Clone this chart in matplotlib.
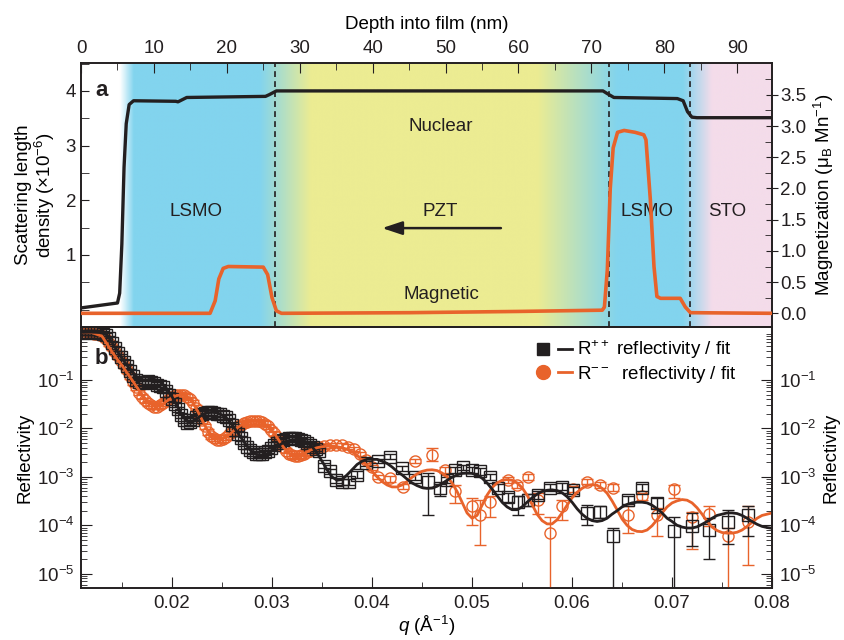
import numpy as np
import matplotlib.pyplot as plt
from matplotlib.legend_handler import HandlerTuple
from matplotlib.lines import Line2D
from matplotlib.ticker import MultipleLocator, FixedLocator, NullFormatter, LogLocator, FormatStrFormatter

plt.rcParams['font.family'] = ['Liberation Sans', 'DejaVu Sans']
plt.rcParams['mathtext.fontset'] = 'custom'
plt.rcParams['mathtext.rm'] = 'Liberation Sans'
plt.rcParams['mathtext.it'] = 'Liberation Sans:italic'
plt.rcParams['mathtext.bf'] = 'Liberation Sans:bold'
plt.rcParams['font.size'] = 13.5

INK = '#231F20'
ORANGE = '#E8632B'
BLUE = '#82D4EE'
YELLOW = '#ECEC92'
PINK = '#F4DCEA'

# ---- panel a: depth profiles ----
depth_nuc = [0, 5.0, 5.3, 5.6, 5.9, 6.2, 6.6, 7.2, 13.0, 13.3, 14.5, 25.3, 25.8, 26.8,
             71.6, 72.2, 73.1, 81.8, 82.6, 83.2, 83.8, 84.5, 94.8]
sld_nuc = [0.03, 0.12, 0.3, 1.2, 2.6, 3.4, 3.75, 3.82, 3.81, 3.80, 3.88, 3.90, 3.93, 4.0,
           4.0, 3.95, 3.88, 3.86, 3.82, 3.62, 3.52, 3.51, 3.51]

depth_mag = [0, 17.7, 18.4, 18.9, 19.5, 20.2, 25.0, 25.6, 26.2, 26.8, 27.5, 45.0, 60.0,
             71.5, 71.8, 72.2, 72.6, 73.0, 73.6, 74.5, 76.0, 77.2, 77.5, 78.1, 78.6,
             79.0, 79.5, 82.2, 82.9, 83.6, 94.8]
mag = [0.0, 0.0, 0.2, 0.55, 0.72, 0.75, 0.74, 0.62, 0.25, 0.04, 0.0, 0.01, 0.03,
       0.05, 0.1, 0.7, 2.0, 2.65, 2.9, 2.93, 2.9, 2.86, 2.78, 1.82, 0.75,
       0.27, 0.24, 0.24, 0.1, 0.01, 0.0]

interfaces = [26.6, 72.4, 83.5]
layer_depth = [0, 5.3, 7.2, 24.5, 31.5, 62.5, 73.5, 82.5, 86.5, 94.8]
layer_color = ['#FFFFFF', '#FFFFFF', BLUE, BLUE, YELLOW, YELLOW, BLUE, BLUE, PINK, PINK]

# ---- panel b: reflectivity ----
q_dense = [0.0110, 0.0113, 0.0116, 0.0119, 0.0122, 0.0125, 0.0128, 0.0131, 0.0134, 0.0137,
           0.0140, 0.0143, 0.0146, 0.0149, 0.0152, 0.0155, 0.0158, 0.0161, 0.0164, 0.0167,
           0.0170, 0.0173, 0.0176, 0.0179, 0.0182, 0.0185, 0.0188, 0.0191, 0.0194, 0.0197,
           0.0200, 0.0203, 0.0206, 0.0209, 0.0212, 0.0215, 0.0218, 0.0221, 0.0224, 0.0227,
           0.0230, 0.0233, 0.0236, 0.0239, 0.0242, 0.0245, 0.0248, 0.0251, 0.0254, 0.0257,
           0.0260, 0.0263, 0.0266, 0.0269, 0.0272, 0.0275, 0.0278, 0.0281, 0.0284, 0.0287,
           0.0290, 0.0293, 0.0296, 0.0299, 0.0302, 0.0305, 0.0308, 0.0311, 0.0314, 0.0317,
           0.0320, 0.0323, 0.0326, 0.0329, 0.0332, 0.0335, 0.0338, 0.0341, 0.0344, 0.0347]
rpp_dense = [0.95, 0.97, 0.96, 0.98, 0.95, 0.96, 0.93, 0.90, 0.85, 0.72,
             0.58, 0.45, 0.36, 0.30, 0.24, 0.19, 0.15, 0.12, 0.10, 0.09,
             0.085, 0.09, 0.095, 0.09, 0.085, 0.08, 0.075, 0.07, 0.06, 0.05,
             0.04, 0.032, 0.025, 0.019, 0.015, 0.013, 0.0135, 0.015, 0.017, 0.019,
             0.020, 0.021, 0.022, 0.022, 0.021, 0.020, 0.020, 0.018, 0.017, 0.015,
             0.012, 0.0095, 0.0078, 0.0062, 0.0050, 0.0042, 0.0036, 0.0033, 0.0030, 0.0029,
             0.0030, 0.0032, 0.0035, 0.0040, 0.0046, 0.0050, 0.0055, 0.0058, 0.0060, 0.0062,
             0.0064, 0.0062, 0.0060, 0.0057, 0.0054, 0.0050, 0.0046, 0.0042, 0.0038, 0.0035]
rmm_dense = [0.92, 0.95, 0.94, 0.92, 0.90, 0.88, 0.85, 0.80, 0.70, 0.58,
             0.47, 0.38, 0.31, 0.25, 0.20, 0.16, 0.12, 0.09, 0.07, 0.055,
             0.045, 0.038, 0.033, 0.030, 0.028, 0.028, 0.030, 0.033, 0.037, 0.041,
             0.045, 0.048, 0.050, 0.050, 0.048, 0.045, 0.040, 0.034, 0.027, 0.020,
             0.015, 0.011, 0.0085, 0.0070, 0.0062, 0.0058, 0.0058, 0.0060, 0.0065, 0.0075,
             0.0085, 0.0097, 0.011, 0.012, 0.013, 0.0135, 0.014, 0.0142, 0.0142, 0.014,
             0.0135, 0.0125, 0.011, 0.0095, 0.008, 0.0065, 0.0052, 0.0042, 0.0035, 0.0030,
             0.0028, 0.0027, 0.0027, 0.0028, 0.0030, 0.0032, 0.0035, 0.0037, 0.0039, 0.0041]
dense_rel_err = 0.12

q_pp = [0.0352, 0.0358, 0.0364, 0.0370, 0.0377, 0.0385, 0.0394, 0.0406, 0.0418, 0.0430,
        0.0443, 0.0456, 0.0468, 0.0475, 0.0483, 0.0491, 0.0500, 0.0508, 0.0518, 0.0526,
        0.0536, 0.0546, 0.0556, 0.0566, 0.0578, 0.0590, 0.0601, 0.0615, 0.0628, 0.0641,
        0.0656, 0.0670, 0.0685, 0.0702, 0.0720, 0.0737, 0.0756, 0.0776]
r_pp = [0.0017, 0.0013, 0.00085, 0.0008, 0.0008, 0.0011, 0.0019, 0.0021, 0.0026, 0.0015,
        0.0010, 0.0008, 0.00059, 0.00087, 0.0014, 0.0016, 0.0014, 0.0013, 0.0010, 0.00059,
        0.00038, 0.00031, 0.00034, 0.00043, 0.00059, 0.00063, 0.00054, 0.00018, 0.00019, 0.000059,
        0.00034, 0.00059, 0.00029, 0.000077, 0.000098, 0.000081, 0.000115, 0.00016]
lo_pp = [0.0015, 0.00115, 0.00075, 0.00068, 0.00068, 0.00095, 0.0017, 0.0019, 0.0023, 0.0013,
         0.00085, 0.00016, 0.0004, 0.00075, 0.0012, 0.0014, 0.0012, 0.0011, 0.00085, 0.0005,
         0.0003, 0.00016, 0.00025, 0.00035, 0.0005, 0.00053, 0.00045, 0.0001, 0.00014, 1e-6,
         0.00028, 0.0005, 0.00018, 1e-6, 0.000037, 0.00002, 0.000042, 0.000059]
hi_pp = [0.0019, 0.00145, 0.00095, 0.00092, 0.00092, 0.0013, 0.0021, 0.0023, 0.0029, 0.0017,
         0.00115, 0.0012, 0.00072, 0.001, 0.0016, 0.0018, 0.0016, 0.0015, 0.00115, 0.0007,
         0.00046, 0.0004, 0.00045, 0.00051, 0.0007, 0.00073, 0.00063, 0.00026, 0.00025, 0.00009,
         0.0004, 0.0007, 0.00036, 0.00015, 0.00018, 0.00014, 0.00021, 0.00025]

q_mm = [0.0352, 0.0358, 0.0364, 0.0370, 0.0376, 0.0382, 0.0388, 0.0394, 0.0400, 0.0406,
        0.0418, 0.0431, 0.0443, 0.0460, 0.0473, 0.0483, 0.0500, 0.0508, 0.0518, 0.0536,
        0.0545, 0.0556, 0.0566, 0.0578, 0.0590, 0.0601, 0.0615, 0.0628, 0.0641, 0.0656,
        0.0670, 0.0685, 0.0702, 0.0720, 0.0737, 0.0756, 0.0776]
r_mm = [0.0043, 0.0045, 0.0046, 0.0045, 0.0042, 0.0038, 0.0030, 0.0022, 0.0016, 0.0010,
        0.00093, 0.00063, 0.0021, 0.0028, 0.0014, 0.0005, 0.00025, 0.00016, 0.00031, 0.00087,
        0.00069, 0.0010, 0.00034, 0.000069, 0.00025, 0.00056, 0.0008, 0.00069, 0.00059, 0.000166,
        0.0004, 0.000166, 0.00056, 0.000148, 0.000174, 0.00006, 0.000115]
lo_mm = [0.0038, 0.004, 0.0041, 0.004, 0.0037, 0.0034, 0.0027, 0.0019, 0.0014, 0.0009,
         0.0008, 0.00055, 0.0019, 0.0021, 0.0012, 0.00029, 0.0001, 0.00004, 0.00015, 0.00075,
         0.0006, 0.00088, 0.00017, 1e-6, 0.00013, 0.00048, 0.0007, 0.0006, 0.0005, 0.00007,
         0.00034, 0.00006, 0.00036, 0.000032, 0.000097, 1e-6, 0.000015]
hi_mm = [0.0048, 0.005, 0.0051, 0.005, 0.0047, 0.0042, 0.0033, 0.0025, 0.0018, 0.0011,
         0.00105, 0.00072, 0.0023, 0.0039, 0.0016, 0.00069, 0.00036, 0.00034, 0.0004, 0.001,
         0.0008, 0.00115, 0.00046, 0.00015, 0.00034, 0.00065, 0.0009, 0.0008, 0.0007, 0.00025,
         0.00047, 0.00023, 0.00069, 0.00019, 0.00025, 0.00009, 0.00025]

q_fit = [0.0109, 0.0120, 0.0130, 0.0135, 0.0140, 0.0145, 0.0150, 0.0155, 0.0160, 0.0165,
         0.0170, 0.0175, 0.0180, 0.0185, 0.0190, 0.0195, 0.0200, 0.0205, 0.0210, 0.0215,
         0.0220, 0.0225, 0.0230, 0.0235, 0.0240, 0.0245, 0.0250, 0.0255, 0.0260, 0.0265,
         0.0270, 0.0275, 0.0280, 0.0285, 0.0290, 0.0295, 0.0300, 0.0305, 0.0310, 0.0315,
         0.0320, 0.0325, 0.0330, 0.0335, 0.0340, 0.0345, 0.0350, 0.0355, 0.0360, 0.0365,
         0.0370, 0.0375, 0.0380, 0.0385, 0.0390, 0.0395, 0.0400, 0.0405, 0.0410, 0.0415,
         0.0420, 0.0425, 0.0430, 0.0435, 0.0440, 0.0445, 0.0450, 0.0455, 0.0460, 0.0465,
         0.0470, 0.0475, 0.0480, 0.0485, 0.0490, 0.0495, 0.0500, 0.0505, 0.0510, 0.0515,
         0.0520, 0.0525, 0.0530, 0.0535, 0.0540, 0.0545, 0.0550, 0.0555, 0.0560, 0.0565,
         0.0570, 0.0575, 0.0580, 0.0585, 0.0590, 0.0595, 0.0600, 0.0605, 0.0610, 0.0615,
         0.0620, 0.0625, 0.0630, 0.0635, 0.0640, 0.0645, 0.0650, 0.0655, 0.0660, 0.0665,
         0.0670, 0.0675, 0.0680, 0.0685, 0.0690, 0.0695, 0.0700, 0.0705, 0.0710, 0.0715,
         0.0720, 0.0725, 0.0730, 0.0735, 0.0740, 0.0745, 0.0750, 0.0755, 0.0760, 0.0765,
         0.0770, 0.0775, 0.0780, 0.0785, 0.0790, 0.0795, 0.0800]
fit_pp = [0.96, 0.97, 0.95, 0.85, 0.6, 0.4, 0.28, 0.2, 0.15, 0.115,
          0.1, 0.1, 0.105, 0.1, 0.085, 0.065, 0.045, 0.03, 0.019, 0.014,
          0.0135, 0.016, 0.019, 0.021, 0.0215, 0.021, 0.019, 0.016, 0.012, 0.0085,
          0.006, 0.0043, 0.0033, 0.0029, 0.0028, 0.003, 0.0035, 0.0042, 0.0049, 0.0055,
          0.0058, 0.0059, 0.0057, 0.0052, 0.0042, 0.0031, 0.0021, 0.0014, 0.001, 0.00085,
          0.00088, 0.0011, 0.0014, 0.0018, 0.0021, 0.0023, 0.0023, 0.0023, 0.0021, 0.0019,
          0.0016, 0.0013, 0.0011, 0.0009, 0.00075, 0.00066, 0.0006, 0.00058, 0.00059, 0.00064,
          0.00073, 0.00085, 0.00098, 0.0011, 0.00118, 0.0012, 0.00118, 0.0011, 0.00094, 0.00075,
          0.00056, 0.00041, 0.0003, 0.00024, 0.00021, 0.00021, 0.00024, 0.0003, 0.00037, 0.00044,
          0.0005, 0.00053, 0.00054, 0.00052, 0.00047, 0.00039, 0.0003, 0.00022, 0.00017, 0.00014,
          0.000125, 0.00012, 0.000125, 0.00014, 0.00017, 0.0002, 0.00024, 0.00027, 0.00029, 0.0003,
          0.0003, 0.00029, 0.00026, 0.00022, 0.00018, 0.00014, 0.00012, 0.0001, 0.000092, 0.000088,
          0.000088, 0.000093, 0.000105, 0.00012, 0.00014, 0.00016, 0.00017, 0.00018, 0.00018, 0.000175,
          0.00016, 0.00014, 0.00012, 0.000105, 0.000095, 0.00009, 0.000087]
fit_mm = [0.95, 0.95, 0.8, 0.55, 0.38, 0.27, 0.2, 0.14, 0.1, 0.07,
          0.05, 0.037, 0.031, 0.029, 0.031, 0.037, 0.043, 0.048, 0.049, 0.046,
          0.036, 0.024, 0.015, 0.0095, 0.0072, 0.0062, 0.0062, 0.0068, 0.0083, 0.0102,
          0.012, 0.0133, 0.014, 0.014, 0.0133, 0.0115, 0.009, 0.0065, 0.0045, 0.0033,
          0.0028, 0.0027, 0.0029, 0.0033, 0.0037, 0.004, 0.0042, 0.0043, 0.0043, 0.0042,
          0.004, 0.0037, 0.0033, 0.0028, 0.0022, 0.0017, 0.0013, 0.001, 0.0008, 0.00068,
          0.00062, 0.00062, 0.00068, 0.0008, 0.00098, 0.00115, 0.0013, 0.00138, 0.0014, 0.00135,
          0.0012, 0.001, 0.00075, 0.0005, 0.0003, 0.00018, 0.00014, 0.00016, 0.00026, 0.00042,
          0.0006, 0.00075, 0.00085, 0.00088, 0.00085, 0.00075, 0.0006, 0.00042, 0.00027, 0.00017,
          0.000125, 0.000107, 0.000107, 0.00013, 0.00018, 0.00026, 0.00037, 0.00048, 0.00058, 0.00066,
          0.00069, 0.00067, 0.00058, 0.00046, 0.00032, 0.00021, 0.000135, 0.0001, 0.000082, 0.000075,
          0.000074, 0.00008, 0.000098, 0.00013, 0.00018, 0.00024, 0.00029, 0.00032, 0.00034, 0.00033,
          0.00029, 0.00023, 0.00017, 0.00012, 0.000092, 0.000078, 0.000071, 0.000069, 0.000069, 0.000072,
          0.00008, 0.000095, 0.000115, 0.00014, 0.00016, 0.00017, 0.00018]


fig = plt.figure(figsize=(8.45, 6.4), dpi=100)
ax_a = fig.add_axes([0.0959, 0.489, 0.8178, 0.4125])
ax_b = fig.add_axes([0.0959, 0.0808, 0.8178, 0.4082])

# ---------- panel a ----------
x_lim = (0, 94.8)
sld_lim = (-0.32, 4.51)
ax_a.set_xlim(*x_lim)
ax_a.set_ylim(*sld_lim)

# coloured layer background
grid = np.linspace(x_lim[0], x_lim[1], 800)
rgb = np.array([plt.matplotlib.colors.to_rgb(c) for c in layer_color])
band = np.stack([np.interp(grid, layer_depth, rgb[:, i]) for i in range(3)], axis=-1)
ax_a.imshow(band[None, :, :], extent=[x_lim[0], x_lim[1], sld_lim[0], sld_lim[1]],
            aspect='auto', zorder=0, interpolation='bilinear')

for d in interfaces:
    ax_a.axvline(d, color=INK, lw=1.2, ls=(0, (3.5, 2.5)), zorder=2)

ax_a.plot(depth_nuc, sld_nuc, color=INK, lw=2.4, zorder=4, solid_joinstyle='round')

ax_m = ax_a.twinx()
ax_m.set_ylim(-0.22, 4.01)
ax_m.plot(depth_mag, mag, color=ORANGE, lw=2.6, zorder=4, solid_joinstyle='round')

ax_a.text(15.8, 1.8, 'LSMO', ha='center', va='center', color=INK)
ax_a.text(49.3, 1.8, 'PZT', ha='center', va='center', color=INK)
ax_a.text(77.6, 1.8, 'LSMO', ha='center', va='center', color=INK)
ax_a.text(88.7, 1.8, 'STO', ha='center', va='center', color=INK)
ax_a.text(49.4, 3.34, 'Nuclear', ha='center', va='center', color=INK)
ax_a.text(49.4, 0.27, 'Magnetic', ha='center', va='center', color=INK)
ax_a.annotate('', xy=(41.3, 1.49), xytext=(57.6, 1.49),
              arrowprops=dict(arrowstyle='-|>,head_length=0.9,head_width=0.3',
                              color=INK, lw=1.8, shrinkA=0, shrinkB=0))
ax_a.text(1.9, 4.0, 'a', fontsize=16, fontweight='bold', ha='left', va='center', color=INK)

ax_a.xaxis.tick_top()
ax_a.xaxis.set_label_position('top')
ax_a.set_xlabel('Depth into film (nm)', labelpad=8)
ax_a.xaxis.set_major_locator(MultipleLocator(10))
ax_a.xaxis.set_minor_locator(MultipleLocator(5))
ax_a.yaxis.set_major_locator(FixedLocator([1, 2, 3, 4]))
ax_a.yaxis.set_minor_locator(MultipleLocator(0.5))
ax_a.tick_params(axis='both', which='both', direction='in', colors=INK, labelcolor=INK)
ax_a.tick_params(axis='x', which='major', length=7, pad=4)
ax_a.tick_params(axis='x', which='minor', length=5)
ax_a.tick_params(axis='y', which='both', length=6)
ax_a.set_ylabel('Scattering length\ndensity (×10$^{-6}$)', linespacing=1.05, labelpad=6)

ax_m.yaxis.set_major_locator(FixedLocator([0, 0.5, 1.0, 1.5, 2.0, 2.5, 3.0, 3.5]))
ax_m.yaxis.set_minor_locator(FixedLocator([0.25, 0.75, 1.25, 1.75, 2.25, 2.75, 3.25, 3.75]))
ax_m.yaxis.set_major_formatter(FormatStrFormatter('%.1f'))
ax_m.tick_params(axis='y', which='major', direction='inout', length=8, colors=INK, labelcolor=INK, pad=2)
ax_m.tick_params(axis='y', which='minor', direction='in', length=5, colors=INK)
ax_m.set_ylabel('Magnetization (μ$_{\\rm B}$ Mn$^{-1}$)', labelpad=4)

for ax in (ax_a, ax_m):
    for s in ax.spines.values():
        s.set_color(INK)
        s.set_linewidth(1.2)

# ---------- panel b ----------
ax_b.set_xlim(0.0109, 0.080)
ax_b.set_ylim(10 ** -5.3, 10 ** 0.093)
ax_b.set_yscale('log')

err_kw = dict(ls='none', capsize=4, elinewidth=1.0, capthick=1.0, ms=8, mew=1.0, mfc='none')
rmm_dense_arr = np.array(rmm_dense)
rpp_dense_arr = np.array(rpp_dense)
ax_b.errorbar(q_dense, rmm_dense, yerr=dense_rel_err * rmm_dense_arr, marker='o',
              color=ORANGE, mec=ORANGE, zorder=3, **err_kw)
ax_b.errorbar(q_mm, r_mm, yerr=[np.array(r_mm) - np.array(lo_mm), np.array(hi_mm) - np.array(r_mm)],
              marker='o', color=ORANGE, mec=ORANGE, zorder=3, **err_kw)
ax_b.errorbar(q_dense, rpp_dense, yerr=dense_rel_err * rpp_dense_arr, marker='s',
              color=INK, mec=INK, zorder=4, **err_kw)
ax_b.errorbar(q_pp, r_pp, yerr=[np.array(r_pp) - np.array(lo_pp), np.array(hi_pp) - np.array(r_pp)],
              marker='s', color=INK, mec=INK, zorder=4, **err_kw)

ax_b.plot(q_fit, fit_mm, color=ORANGE, lw=2.0, zorder=5)
ax_b.plot(q_fit, fit_pp, color=INK, lw=2.0, zorder=6)

h_pp = (Line2D([], [], marker='s', ls='none', color=INK, ms=9),
        Line2D([], [], color=INK, lw=2.0))
h_mm = (Line2D([], [], marker='o', ls='none', color=ORANGE, ms=10),
        Line2D([], [], color=ORANGE, lw=2.0))
ax_b.legend([h_pp, h_mm], ['R$^{++}$ reflectivity / fit', 'R$^{−−}$  reflectivity / fit'],
            handler_map={tuple: HandlerTuple(ndivide=None, pad=0.4)},
            loc='upper left', bbox_to_anchor=(0.648, 0.985), frameon=False,
            handlelength=1.9, handletextpad=0.25, labelspacing=0.15, borderaxespad=0)

ax_b.text(0.0123, 10 ** -0.55, 'b', fontsize=16, fontweight='bold', ha='left', va='center', color=INK)

ax_b.xaxis.set_major_locator(FixedLocator([0.02, 0.03, 0.04, 0.05, 0.06, 0.07, 0.08]))
ax_b.xaxis.set_minor_locator(MultipleLocator(0.005))
ax_b.xaxis.set_major_formatter(FormatStrFormatter('%.2f'))
ax_b.yaxis.set_major_locator(FixedLocator([1e-5, 1e-4, 1e-3, 1e-2, 1e-1]))
ax_b.yaxis.set_minor_locator(LogLocator(base=10, subs=np.arange(2, 10), numticks=20))
ax_b.yaxis.set_minor_formatter(NullFormatter())
ax_b.tick_params(axis='both', which='both', direction='in', colors=INK, labelcolor=INK)
ax_b.tick_params(axis='both', which='major', length=8, pad=5)
ax_b.tick_params(axis='both', which='minor', length=4)
ax_b.tick_params(axis='x', which='both', top=False)
ax_b.set_xlabel('$q$ (Å$^{-1}$)', labelpad=1)
ax_b.set_ylabel('Reflectivity', labelpad=2)

ax_r = ax_b.twinx()
ax_r.set_yscale('log')
ax_r.set_ylim(ax_b.get_ylim())
ax_r.yaxis.set_major_locator(FixedLocator([1e-5, 1e-4, 1e-3, 1e-2, 1e-1]))
ax_r.yaxis.set_minor_locator(LogLocator(base=10, subs=np.arange(2, 10), numticks=20))
ax_r.yaxis.set_minor_formatter(NullFormatter())
ax_r.tick_params(axis='y', which='both', direction='in', colors=INK, labelcolor=INK)
ax_r.tick_params(axis='y', which='major', length=8, pad=5)
ax_r.tick_params(axis='y', which='minor', length=4)
ax_r.set_ylabel('Reflectivity', labelpad=4)

for ax in (ax_b, ax_r):
    for s in ax.spines.values():
        s.set_color(INK)
        s.set_linewidth(1.2)

fig.savefig('out.png', dpi=100)
